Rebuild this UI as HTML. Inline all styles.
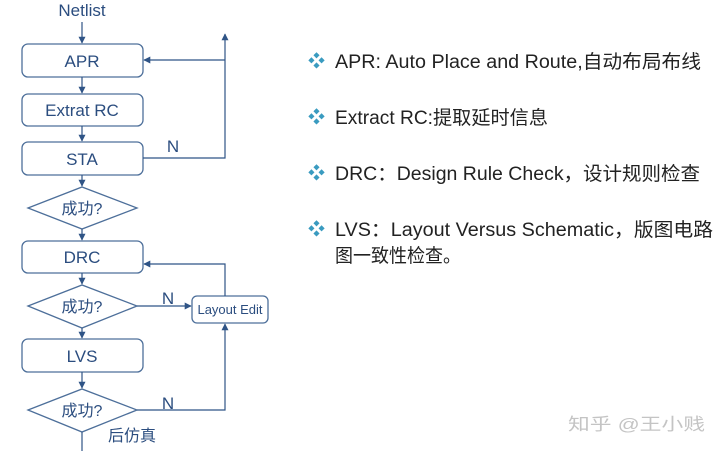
<!DOCTYPE html>
<html><head><meta charset="utf-8"><style>
html,body{margin:0;padding:0;background:#fff;}
svg{display:block;}
.f{font-family:"Liberation Sans","Noto Sans CJK SC",sans-serif;}
</style></head><body>
<svg width="720" height="451" viewBox="0 0 720 451" xmlns="http://www.w3.org/2000/svg">
<defs>
<marker id="a" viewBox="0 0 10 10" refX="9" refY="5" markerWidth="7" markerHeight="7" orient="auto-start-reverse" markerUnits="userSpaceOnUse"><path d="M0,0 L10,5 L0,10 z" fill="#2f5486"/></marker>
</defs>
<g fill="none" stroke="#4d6f9a" stroke-width="1.3">
<rect x="22" y="44" width="121" height="33" rx="6"/>
<rect x="22" y="94" width="121" height="32" rx="6"/>
<rect x="22" y="142" width="121" height="33" rx="6"/>
<polygon points="28,208 82,187 137,208 82,229"/>
<rect x="22" y="241" width="121" height="32" rx="6"/>
<polygon points="28,306 82,285 137,306 82,328"/>
<rect x="22" y="339" width="121" height="33" rx="6"/>
<polygon points="28,410 82,389 137,410 82,432"/>
<rect x="192" y="296" width="76" height="27" rx="5"/>
</g>
<g fill="none" stroke="#2f5486" stroke-width="1.2">
<line x1="82" y1="22" x2="82" y2="43" marker-end="url(#a)"/>
<line x1="82" y1="77" x2="82" y2="93" marker-end="url(#a)"/>
<line x1="82" y1="126" x2="82" y2="141" marker-end="url(#a)"/>
<line x1="82" y1="175" x2="82" y2="186" marker-end="url(#a)"/>
<line x1="82" y1="229" x2="82" y2="240" marker-end="url(#a)"/>
<line x1="82" y1="273" x2="82" y2="284" marker-end="url(#a)"/>
<line x1="82" y1="328" x2="82" y2="338" marker-end="url(#a)"/>
<line x1="82" y1="372" x2="82" y2="388" marker-end="url(#a)"/>
<line x1="82" y1="432" x2="82" y2="451"/>
<polyline points="143,158 225,158 225,34" marker-end="url(#a)"/>
<polyline points="225,60 144,60" marker-end="url(#a)"/>
<polyline points="225,296 225,264 144,264" marker-end="url(#a)"/>
<line x1="137" y1="306" x2="191" y2="306" marker-end="url(#a)"/>
<polyline points="137,410 225,410 225,324" marker-end="url(#a)"/>
</g>
<g class="f" fill="#2b4d7f" text-anchor="middle">
<text x="82" y="16" font-size="17">Netlist</text>
<text x="82" y="67" font-size="17">APR</text>
<text x="82" y="116" font-size="17">Extrat RC</text>
<text x="82" y="165" font-size="17">STA</text>
<text x="82" y="214" font-size="16">成功?</text>
<text x="82" y="263" font-size="17">DRC</text>
<text x="82" y="312" font-size="16">成功?</text>
<text x="82" y="362" font-size="17">LVS</text>
<text x="82" y="416" font-size="16">成功?</text>
<text x="230" y="314" font-size="13">Layout Edit</text>
<text x="173" y="152" font-size="17">N</text>
<text x="168" y="304" font-size="17">N</text>
<text x="168" y="409" font-size="17">N</text>
<text x="132" y="441" font-size="16">后仿真</text>
</g>
<g class="f" fill="#3a9bc0" font-size="17">
<text x="308" y="67">❖</text>
<text x="308" y="123">❖</text>
<text x="308" y="179">❖</text>
<text x="308" y="235">❖</text>
</g>
<g class="f" fill="#222" font-size="19">
<text x="335" y="68" textLength="366" lengthAdjust="spacingAndGlyphs">APR: Auto Place and Route,自动布局布线</text>
<text x="335" y="124" textLength="213" lengthAdjust="spacingAndGlyphs">Extract RC:提取延时信息</text>
<text x="335" y="180" textLength="365" lengthAdjust="spacingAndGlyphs">DRC：Design Rule Check，设计规则检查</text>
<text x="335" y="236" textLength="378" lengthAdjust="spacingAndGlyphs">LVS：Layout Versus Schematic，版图电路</text>
<text x="335" y="262" textLength="126" lengthAdjust="spacingAndGlyphs">图一致性检查。</text>
</g>
<text class="f" x="568" y="430" font-size="17" fill="#c4c4c4" textLength="137" lengthAdjust="spacingAndGlyphs">知乎 @王小贱</text>
</svg>
</body></html>
